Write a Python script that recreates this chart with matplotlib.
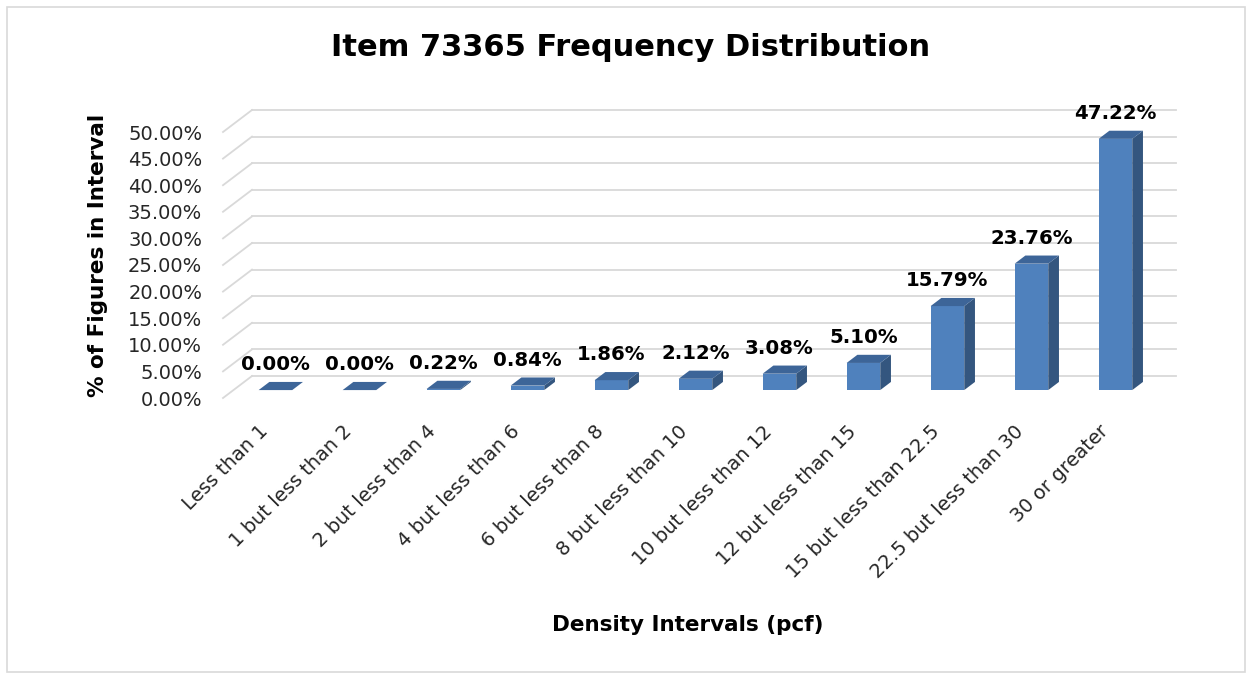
import matplotlib
matplotlib.use("Agg")
import matplotlib.pyplot as plt
from matplotlib.patches import Polygon, Rectangle

# ---- data ----
categories = ["Less than 1", "1 but less than 2", "2 but less than 4", "4 but less than 6",
              "6 but less than 8", "8 but less than 10", "10 but less than 12",
              "12 but less than 15", "15 but less than 22.5", "22.5 but less than 30",
              "30 or greater"]
values = [0.00, 0.00, 0.22, 0.84, 1.86, 2.12, 3.08, 5.10, 15.79, 23.76, 47.22]
yticks = [0, 5, 10, 15, 20, 25, 30, 35, 40, 45, 50]

title = "Item 73365 Frequency Distribution"
xlabel = "Density Intervals (pcf)"
ylabel = "% of Figures in Interval"

# ---- style ----
W, H = 1252, 673
FRONT = "#4F81BD"
SIDE = "#34567F"
TOP = "#3D6598"
GRID = "#D9D9D9"
FONT = "DejaVu Sans"
plt.rcParams["font.family"] = [FONT]

# pseudo-3D depth geometry (in data units)
DX = 29 / 84.0     # category units per full depth
DY = 22 / 5.32     # percent units per full depth
D0, D1 = 0.36, 0.73   # bar front / back depth
BW = 0.40             # bar width in category units

fig = plt.figure(figsize=(W / 100, H / 100), dpi=100)
ax = fig.add_axes([223 / W, 1 - 398 / H, 924 / W, 266 / H])
n = len(categories)
ax.set_xlim(0, n)
ax.set_ylim(0, 50)
for s in ax.spines.values():
    s.set_visible(False)
ax.set_facecolor("none")

# gridlines: back wall + left side wall diagonals
for g in yticks:
    ax.plot([0, DX], [g, g + DY], color=GRID, lw=1.3, clip_on=False, zorder=1)
    ax.plot([DX, n + DX], [g + DY, g + DY], color=GRID, lw=1.3, clip_on=False, zorder=1)

# bars
xs = [i + 0.5 for i in range(n)]
front_x = [x + D0 * DX for x in xs]
ax.bar(front_x, values, width=BW, bottom=D0 * DY, color=FRONT, zorder=3,
       clip_on=False, linewidth=0)
ddx = (D1 - D0) * DX
ddy = (D1 - D0) * DY
for fx, v in zip(front_x, values):
    x0, x1 = fx - BW / 2, fx + BW / 2
    y0, y1 = D0 * DY, D0 * DY + v
    side = Polygon([(x1, y0), (x1 + ddx, y0 + ddy), (x1 + ddx, y1 + ddy), (x1, y1)],
                   closed=True, facecolor=SIDE, edgecolor="none", zorder=3, clip_on=False)
    top = Polygon([(x0, y1), (x1, y1), (x1 + ddx, y1 + ddy), (x0 + ddx, y1 + ddy)],
                  closed=True, facecolor=TOP, edgecolor="none", zorder=4, clip_on=False)
    ax.add_patch(side)
    ax.add_patch(top)
    ax.annotate(f"{v:.2f}%", xy=(fx, y1 + ddy), xytext=(0, 12.5), textcoords="offset points",
                ha="center", va="center", fontsize=14.2, fontweight="bold",
                color="black", zorder=5, annotation_clip=False)

# ticks
ax.set_yticks(yticks)
ax.set_yticklabels([f"{t:.2f}%" for t in yticks], fontsize=14, color="#262626")
ax.tick_params(axis="y", length=0, pad=15)
ax.set_xticks(xs)
ax.set_xticklabels(categories, fontsize=14, color="#262626")
ax.tick_params(axis="x", length=0, pad=22)
for lab in ax.get_xticklabels():
    lab.set_rotation(45)
    lab.set_rotation_mode("anchor")
    lab.set_ha("right")
    lab.set_va("center")

ax.set_xlabel(xlabel, fontsize=15.5, fontweight="bold")
ax.xaxis.set_label_coords((688 - 223) / 924, (398 - 625) / 266)
ax.xaxis.label.set_va("center")
ax.set_ylabel(ylabel, fontsize=15.5, fontweight="bold")
ax.yaxis.set_label_coords((98 - 223) / 924, (398 - 255) / 266)
ax.yaxis.label.set_va("center")

fig.text(631 / W, 1 - 48 / H, title, ha="center", va="center",
         fontsize=22, fontweight="bold")

# outer chart border
fig.patches.append(Rectangle((7 / W, 1 / H), (1245 - 7) / W, (669 - 4) / H,
                             transform=fig.transFigure, fill=False,
                             edgecolor=GRID, lw=1.2))

fig.savefig("out.png", dpi=100, facecolor="white")
